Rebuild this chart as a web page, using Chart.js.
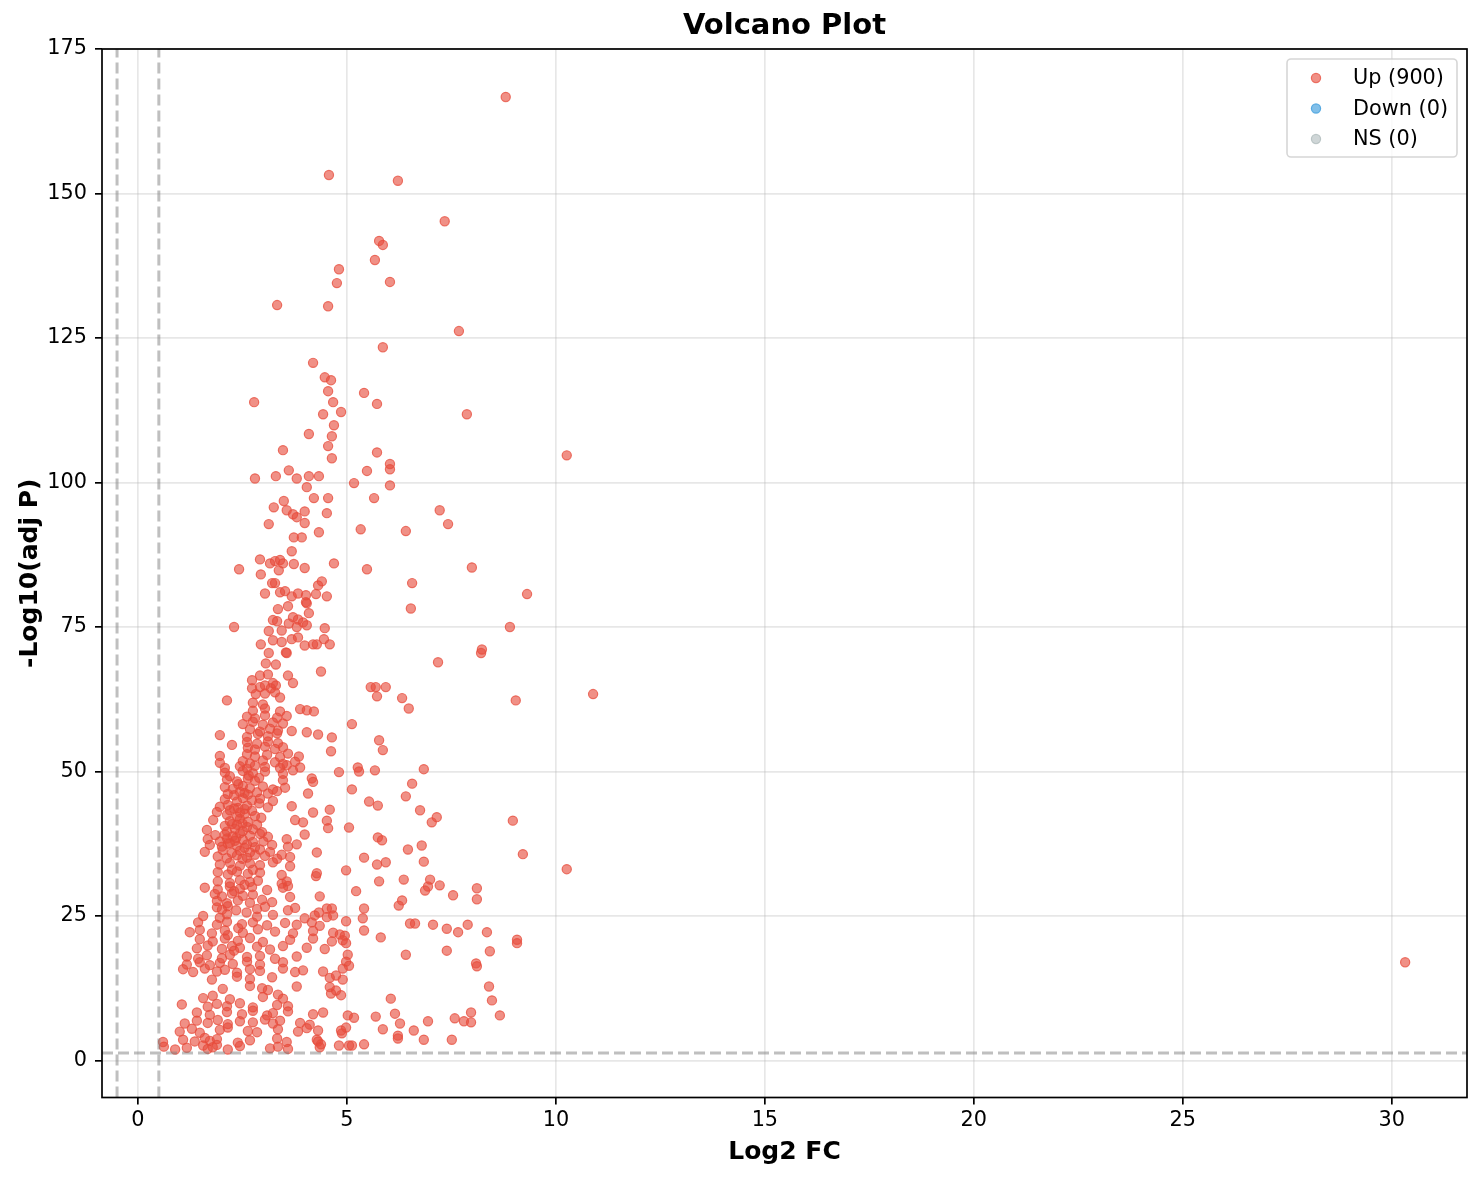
<!DOCTYPE html>
<html>
<head>
<meta charset="utf-8">
<title>Volcano Plot</title>
<script src="https://cdn.jsdelivr.net/npm/chart.js@4.4.1/dist/chart.umd.min.js"></script>
<style>
  html, body { margin: 0; padding: 0; background: #fff; }
  #wrap { width: 1482px; height: 1180px; }
</style>
</head>
<body>
<div id="wrap"><canvas id="volcano" width="1482" height="1180"></canvas></div>
<script>
// [log2 FC, -log10 adj P]
const upPoints = [
  // sparse / outlying points
  [8.80,166.7],[4.57,153.2],[6.22,152.2],[7.34,145.2],[5.77,141.8],[5.86,141.1],[5.67,138.5],[4.81,136.9],
  [4.76,134.5],[6.03,134.7],[3.33,130.7],[4.55,130.5],[7.68,126.2],[5.86,123.4],[4.19,120.7],[4.47,118.2],
  [4.62,117.7],[4.55,115.8],[5.41,115.5],[2.78,113.9],[4.67,113.9],[5.72,113.6],[4.86,112.2],[4.43,111.8],
  [7.87,111.8],[4.69,109.9],[4.09,108.4],[4.64,108.0],[4.55,106.3],[3.47,105.6],[5.72,105.2],[10.26,104.7],
  [4.64,104.2],[3.61,102.1],[5.48,102.0],[6.03,103.2],[6.03,102.3],[2.80,100.7],[3.30,101.1],[4.09,101.1],
  [4.33,101.1],[3.80,100.7],[5.17,99.9],[6.03,99.5],[4.04,99.2],[3.49,96.8],[4.21,97.3],[4.55,97.3],
  [5.65,97.3],[3.25,95.7],[3.56,95.2],[7.22,95.2],[3.99,95.0],[4.52,94.7],[3.71,94.5],[3.80,94.0],
  [7.42,92.8],[5.33,91.9],[6.41,91.6],[3.13,92.8],[4.33,91.4],[3.73,90.5],[3.92,90.5],[2.92,86.7],
  [3.68,88.1],[3.16,86.0],[4.69,86.0],[2.42,85.0],[5.48,85.0],[7.99,85.3],[6.56,82.6],[4.40,82.9],
  [9.31,80.7],[4.52,80.3],[6.53,78.2],[8.90,75.0],[2.30,75.0],[4.47,74.8],[8.23,71.1],[8.21,70.5],
  [4.59,72.0],[7.18,68.9],[10.89,63.4],[9.04,62.3],[6.32,62.7],[6.48,60.9],[5.93,64.6],[5.57,64.6],
  [5.69,64.6],[5.72,63.0],[4.38,67.3],[5.12,58.2],[4.21,60.4],[2.13,62.3],[5.77,55.4],[5.86,53.7],
  [4.62,53.5],[4.64,55.9],[5.26,50.7],[5.29,50.0],[5.67,50.2],[6.84,50.4],[4.81,49.9],[4.16,48.8],
  [6.56,47.9],[5.12,46.9],[6.41,45.7],[5.53,44.8],[5.74,44.1],[6.75,43.3],[4.59,43.4],[7.15,42.1],
  [7.03,41.2],[8.97,41.5],[5.05,40.3],[4.55,40.2],[5.74,38.6],[5.84,38.1],[6.79,37.2],[6.46,36.5],
  [9.21,35.7],[5.41,35.1],[6.84,34.4],[5.93,34.3],[5.72,33.9],[4.98,32.9],[10.26,33.1],[4.26,31.9],
  [6.36,31.3],[6.99,31.3],[5.77,31.0],[7.22,30.3],[8.11,29.8],[6.94,30.1],[6.87,29.4],[5.22,29.3],
  [7.54,28.6],[8.11,27.9],[6.32,27.7],[6.24,26.8],[5.41,26.3],[4.52,26.3],[4.33,25.6],[4.67,25.1],
  [5.38,24.6],[4.98,24.1],[6.51,23.7],[6.63,23.7],[7.06,23.5],[7.89,23.5],[7.39,22.8],[7.66,22.2],
  [8.35,22.2],[5.41,22.5],[4.83,21.8],[4.95,21.6],[5.81,21.3],[9.07,20.9],[9.07,20.3],[4.98,20.3],
  [8.42,18.9],[7.39,19.0],[6.41,18.3],[5.02,18.3],[30.32,17.0],[8.09,16.8],[8.11,16.3],[4.90,15.9],
  [5.05,16.4],[4.98,17.1],[4.74,14.7],[8.40,12.8],[8.47,10.4],[6.05,10.7],[4.86,11.3],[4.74,12.1],
  [4.62,11.6],[7.58,7.3],[8.66,7.8],[7.97,8.3],[7.80,6.8],[7.97,6.6],[6.94,6.8],[6.15,8.1],
  [5.69,7.6],[5.17,7.4],[5.02,7.8],[6.27,6.4],[5.86,5.4],[6.60,5.2],[4.98,5.7],[4.86,5.2],
  [6.22,4.3],[6.22,3.8],[6.84,3.6],[7.51,3.6],[5.41,2.8],[5.05,2.6],[5.12,2.6],[4.81,2.6],
  [4.38,2.8],[4.31,3.3],
  // dense cluster, bottom (y < 17)
  [0.62,2.4],[0.89,1.9],[1.17,2.2],[1.56,2.6],[1.67,2.0],[1.79,2.3],[1.89,2.7],[2.15,1.9],
  [2.44,2.5],[3.16,2.1],[3.35,2.4],[3.59,2.0],[4.35,2.3],
  [0.60,3.2],[1.08,3.6],[1.36,3.3],[1.60,3.9],[1.72,3.4],[1.89,3.7],[2.39,3.1],[2.68,3.5],
  [3.33,3.8],[3.56,3.2],[4.28,3.6],
  [1.00,5.0],[1.29,5.5],[1.48,4.8],[1.96,5.3],[2.15,5.7],[2.63,5.1],[2.85,4.9],[3.35,5.4],
  [3.83,5.0],[4.04,5.6],[4.31,5.2],[4.88,4.7],
  [1.12,6.4],[1.41,6.9],[1.67,6.5],[1.91,7.0],[2.15,6.3],[2.44,6.8],[2.75,6.6],[3.04,7.1],
  [3.23,6.4],[3.40,6.9],[3.88,6.5],[4.11,6.2],
  [1.41,8.3],[1.72,7.9],[2.13,8.4],[2.49,8.0],[2.75,8.6],[3.09,7.8],[3.23,8.2],[3.59,8.5],
  [4.19,8.0],[4.43,8.3],
  [1.05,9.7],[1.67,9.3],[1.89,9.8],[2.13,9.4],[2.44,9.9],[2.75,9.2],[3.33,9.6],[3.59,9.4],
  [1.56,10.8],[1.79,11.2],[2.20,10.6],[2.99,11.0],[3.35,11.4],[3.47,10.7],
  [2.03,12.4],[2.68,12.9],[2.97,12.5],[3.11,12.2],[3.80,12.8],[4.59,12.7],
  [1.77,14.0],[2.37,14.5],[2.68,14.1],[3.21,14.4],[4.59,14.3],[4.90,14.0],
  [1.08,15.8],[1.32,15.3],[1.60,15.9],[1.89,15.4],[2.08,15.7],[2.37,15.2],[2.68,15.8],[2.92,15.5],
  [3.47,15.9],[3.76,15.3],[3.95,15.6],[4.43,15.4],
  [1.17,16.6],[1.48,17.0],[1.72,16.5],[1.96,16.9],[2.27,16.7],[2.61,17.1],[2.92,16.6],[3.47,17.0],
  // dense cluster, y 17 - 35
  [1.17,18.0],[1.44,17.6],[1.65,18.2],[2.01,17.7],[2.20,18.3],[2.61,17.9],[2.92,18.1],[3.28,17.6],[3.80,18.0],
  [1.41,19.4],[1.67,19.9],[2.01,19.3],[2.25,19.8],[2.44,19.5],[2.85,19.7],[3.16,19.2],[3.47,19.8],
  [4.04,19.5],[4.47,19.3],
  [1.48,21.0],[1.79,20.6],[2.08,21.1],[2.39,20.7],[2.68,21.2],[2.99,20.5],[3.64,20.9],[4.19,21.1],
  [4.64,20.6],[4.90,20.8],
  [1.24,22.2],[1.48,22.6],[1.77,22.0],[2.08,22.5],[2.51,22.1],[2.87,22.7],[3.28,22.3],[3.71,22.0],
  [4.19,22.4],[4.67,22.1],
  [1.44,23.9],[1.89,23.5],[2.13,24.0],[2.49,23.6],[2.75,23.9],[3.09,23.4],[3.52,23.8],[3.80,23.5],
  [4.16,23.9],[4.35,23.3],
  [1.56,25.0],[1.96,24.7],[2.13,25.3],[2.85,24.9],[3.23,25.2],[3.99,24.6],[4.23,25.1],[4.52,24.8],
  [1.89,26.5],[2.01,26.1],[2.15,26.7],[2.85,26.2],[3.04,26.6],[3.59,26.0],[3.76,26.4],[4.64,26.3],
  [1.89,27.6],[2.13,27.2],[2.39,27.7],[2.68,27.3],[2.97,27.8],[3.21,27.4],
  [1.84,28.8],[2.01,28.4],[2.25,28.9],[2.51,28.5],[2.75,28.7],[3.64,28.3],[4.35,28.4],
  [1.60,29.9],[1.91,29.6],[2.20,30.1],[2.44,29.7],[2.73,30.0],[3.09,29.5],[3.47,29.9],[3.59,30.2],
  [1.91,31.0],[2.20,30.7],[2.44,31.2],[2.68,30.9],[2.87,31.1],[3.44,30.6],[3.56,31.0],
  [1.91,32.6],[2.15,32.2],[2.37,32.7],[2.63,32.3],[2.92,32.5],[3.44,32.1],[4.28,32.4],
  [1.96,33.9],[2.20,34.2],[2.44,33.7],[2.68,34.1],[2.92,33.8],[3.23,34.3],[3.64,33.6],
  [2.40,22.9],[2.30,19.0],[2.15,21.7],[2.35,26.0],[2.60,25.6],[2.30,29.3],[2.55,30.4],
  [2.25,33.0],[2.50,34.9],[2.75,33.0],
  // dense cluster, y 35 - 62
  [1.91,35.3],[2.13,35.0],[2.37,35.5],[2.61,35.1],[3.04,35.4],[3.33,34.9],[3.44,35.6],[3.64,35.2],
  [1.60,36.1],[2.03,36.4],[2.25,35.9],[2.44,36.3],[2.68,36.0],[2.92,36.5],[3.16,36.1],[4.28,36.0],
  [1.72,37.3],[2.01,37.0],[2.15,37.5],[2.37,37.1],[2.61,37.4],[2.80,36.9],[3.21,37.3],[3.59,37.0],[3.80,37.4],
  [1.67,38.3],[1.96,37.9],[2.13,38.4],[2.32,38.0],[2.51,38.2],[2.75,37.8],[3.56,38.3],
  [2.08,39.1],[2.27,38.8],[2.44,39.3],[2.68,38.9],[2.92,39.2],[3.11,38.7],[3.99,39.1],
  [1.65,39.9],[2.13,39.6],[2.32,40.1],[2.51,39.7],[2.75,40.0],[2.97,39.5],
  [2.08,40.6],[2.37,40.8],[2.61,40.4],
  [2.20,41.4],[2.44,41.8],[2.63,41.3],[3.76,41.6],[3.95,41.2],[4.52,41.5],
  [2.13,42.5],[2.37,42.2],[2.56,42.7],[2.80,42.3],
  [1.89,43.0],[2.20,43.3],[2.44,42.9],[2.73,43.2],[4.19,42.9],
  [1.96,43.9],[2.15,44.2],[2.39,43.7],[2.61,44.1],[3.11,43.8],[3.68,44.0],
  [2.08,45.2],[2.37,44.8],[2.51,45.4],[2.73,45.0],[2.92,45.3],[3.23,44.9],
  [2.15,46.1],[2.44,46.5],[2.63,46.0],[2.85,46.4],[3.11,46.2],[3.33,46.6],[4.07,46.2],
  [2.08,47.3],[2.27,47.0],[2.51,47.5],[2.68,47.1],[2.99,47.4],[3.23,46.9],[3.52,47.2],
  [2.13,48.6],[2.37,48.3],[2.63,48.8],[2.80,48.4],[3.47,48.5],[4.19,48.2],
  [2.08,49.8],[2.51,50.1],[2.75,49.7],[3.04,50.0],[3.47,49.6],[3.71,50.2],
  [2.08,50.6],[2.44,50.9],[2.61,50.5],[2.80,51.0],[3.04,50.8],[3.40,50.6],[3.56,51.1],[3.88,50.7],
  [1.96,51.5],[2.51,51.8],[2.68,51.4],[2.99,51.9],[3.28,51.6],[3.47,51.3],[3.76,51.7],
  [1.96,52.7],[2.61,53.0],[2.80,52.6],[3.09,52.9],[3.40,52.5],[3.59,53.1],[3.85,52.6],
  [2.63,54.1],[2.80,53.8],[3.04,54.3],[3.28,53.9],[3.47,54.2],
  [2.25,54.6],[2.61,55.1],[2.85,54.8],[3.11,55.2],[3.35,54.9],
  [1.96,56.3],[2.61,56.0],[2.87,56.5],[3.11,56.1],[3.33,56.6],[3.68,57.0],[4.04,56.8],[4.31,56.4],
  [2.68,57.3],[2.92,56.9],[3.16,57.4],[3.35,57.1],
  [2.51,58.2],[2.75,58.6],[2.99,58.1],[3.23,58.5],[3.47,58.3],
  [2.61,59.5],[2.80,59.2],[3.04,59.7],[3.33,59.3],[3.56,59.6],
  [2.75,60.5],[3.04,60.9],[3.40,60.4],[3.88,60.8],[4.04,60.6],
  [2.75,61.9],[2.99,61.6],
  [2.25,40.9],[2.50,41.0],[2.30,43.6],[2.55,43.5],[2.30,45.9],[2.55,46.3],[2.40,47.8],[2.20,49.2],
  [2.65,49.3],[2.90,48.9],[2.35,38.5],[2.55,36.8],[2.80,35.6],[2.90,44.5],[2.95,42.0],[3.00,37.9],
  [2.85,40.8],[2.20,37.6],[1.85,39.0],[1.80,41.6],
  // dense cluster, y 62 - 93
  [3.99,93.0],[3.28,86.4],[3.40,86.6],[3.47,86.0],[3.73,85.9],[3.37,84.8],[3.99,85.2],[2.94,84.1],
  [3.21,82.6],[3.28,82.6],[4.31,82.2],[3.04,80.8],[3.40,81.0],[3.52,81.2],[3.68,80.3],[3.83,80.8],
  [4.02,80.5],[4.26,80.7],[4.02,79.3],[4.04,79.1],[4.09,77.4],[3.59,78.6],[3.35,78.1],[3.23,76.2],
  [3.33,76.0],[3.71,76.7],[3.83,76.3],[3.95,75.8],[4.04,75.3],[3.61,75.6],[3.80,75.0],[3.44,74.4],
  [3.13,74.3],[3.23,72.7],[3.44,72.4],[3.68,72.9],[3.83,73.2],[3.99,71.8],[4.19,72.0],[4.28,72.0],
  [4.45,72.9],[2.94,72.0],[3.54,70.6],[3.56,70.5],[3.13,70.5],[3.06,68.7],[3.30,68.5],[3.59,66.6],
  [3.71,65.3],[2.92,66.6],[3.11,66.8],[2.73,65.8],[3.23,65.3],[3.30,64.9],[3.04,64.9],[2.73,64.4],
  [2.92,64.6],[3.18,64.4],[2.82,63.4],[3.04,63.5],[3.28,63.7],[3.40,62.8]
];
const downPoints = [];
const nsPoints = [];

const seriesLabels = ['Up (900)', 'Down (0)', 'NS (0)'];
const seriesFills = ['rgba(231, 76, 60, 0.62)', 'rgba(52, 152, 219, 0.62)', 'rgba(149, 165, 166, 0.45)'];
const seriesEdges = ['rgba(231, 76, 60, 0.75)', 'rgba(52, 152, 219, 0.75)', 'rgba(149, 165, 166, 0.55)'];

const xTicks = [0, 5, 10, 15, 20, 25, 30];
const yTicks = [0, 25, 50, 75, 100, 125, 150, 175];
const xRange = [-0.86, 31.8];
const yRange = [-6.4, 175];

// significance cut-offs (dashed guide lines)
const fcCutoffs = [-0.5, 0.5];
const pCutoff = 1.3;

Chart.defaults.font.family = "'DejaVu Sans', sans-serif";
Chart.defaults.color = '#000';

const toXY = pts => pts.map(p => ({ x: p[0], y: p[1] }));

const guideStyle = {
    showLine: true,
    pointRadius: 0,
    borderColor: 'rgba(128, 128, 128, 0.5)',
    borderWidth: 3,
    borderDash: [11, 5],
    order: 0
};
const guideSets = fcCutoffs.map(v => ({
    ...guideStyle,
    data: [{ x: v, y: yRange[0] }, { x: v, y: yRange[1] }]
}));
guideSets.push({
    ...guideStyle,
    data: [{ x: xRange[0], y: pCutoff }, { x: xRange[1], y: pCutoff }]
});

const pointSets = [upPoints, downPoints, nsPoints].map((pts, i) => ({
    label: seriesLabels[i],
    data: toXY(pts),
    backgroundColor: seriesFills[i],
    borderColor: seriesEdges[i],
    borderWidth: 1.2,
    pointRadius: 4.6,
    pointHoverRadius: 4.6,
    order: 1
}));

// axes box on all four sides + matplotlib style legend inside the plot
const frameAndLegend = {
    id: 'frameAndLegend',
    afterDraw(chart) {
        const { ctx, chartArea } = chart;
        ctx.save();
        ctx.strokeStyle = '#000';
        ctx.lineWidth = 1.7;
        ctx.strokeRect(chartArea.left, chartArea.top,
            chartArea.right - chartArea.left, chartArea.bottom - chartArea.top);

        const bx = chartArea.right - 180, by = chartArea.top + 10, bw = 170, bh = 98;
        ctx.beginPath();
        ctx.roundRect(bx, by, bw, bh, 4);
        ctx.fillStyle = 'rgba(255, 255, 255, 0.8)';
        ctx.fill();
        ctx.strokeStyle = 'rgba(204, 204, 204, 0.8)';
        ctx.lineWidth = 1.6;
        ctx.stroke();

        ctx.font = "20.8px 'DejaVu Sans'";
        ctx.textBaseline = 'middle';
        ctx.textAlign = 'left';
        pointSets.forEach((ds, i) => {
            const cy = by + 19 + i * 30.5;
            ctx.beginPath();
            ctx.arc(bx + 29, cy, 4.6, 0, Math.PI * 2);
            ctx.fillStyle = ds.backgroundColor;
            ctx.fill();
            ctx.lineWidth = 1.2;
            ctx.strokeStyle = ds.borderColor;
            ctx.stroke();
            ctx.fillStyle = '#000';
            ctx.fillText(ds.label, bx + 66, cy + 1);
        });
        ctx.restore();
    }
};

const gridStyle = {
    color: 'rgba(176, 176, 176, 0.3)',
    lineWidth: 1.7,
    tickColor: '#000',
    tickWidth: 1.7,
    tickLength: 7
};
const tickFont = { size: 20.8 };
const axisTitleFont = { size: 25, weight: 'bold' };

const ctx = document.getElementById('volcano').getContext('2d');
const volcanoChart = new Chart(ctx, {
    type: 'scatter',
    data: {
        datasets: [...guideSets, ...pointSets]
    },
    options: {
        responsive: false,
        animation: false,
        devicePixelRatio: 1,
        layout: {
            padding: { left: 0, right: 15, top: 0, bottom: 0 }
        },
        plugins: {
            legend: { display: false },
            tooltip: { enabled: false },
            title: {
                display: true,
                text: 'Volcano Plot',
                fullSize: false,
                color: '#000',
                font: { size: 29, weight: 'bold', lineHeight: 1 },
                padding: { top: 12, bottom: 8 }
            }
        },
        scales: {
            x: {
                type: 'linear',
                min: xRange[0],
                max: xRange[1],
                afterBuildTicks: scale => { scale.ticks = xTicks.map(v => ({ value: v })); },
                afterFit: scale => { scale.height = 82.5; },
                grid: gridStyle,
                border: { display: false },
                ticks: { font: tickFont, color: '#000', padding: 4, autoSkip: false, maxRotation: 0 },
                title: {
                    display: true,
                    text: 'Log2 FC',
                    color: '#000',
                    font: axisTitleFont,
                    padding: { top: 0, bottom: 13 }
                }
            },
            y: {
                type: 'linear',
                min: yRange[0],
                max: yRange[1],
                afterBuildTicks: scale => { scale.ticks = yTicks.map(v => ({ value: v })); },
                afterFit: scale => { scale.width = 102; },
                grid: gridStyle,
                border: { display: false },
                ticks: { font: tickFont, color: '#000', padding: 8, autoSkip: false },
                title: {
                    display: true,
                    text: '-Log10(adj P)',
                    color: '#000',
                    font: axisTitleFont,
                    padding: { top: 15, bottom: 0 }
                }
            }
        }
    },
    plugins: [frameAndLegend]
});
</script>
</body>
</html>
